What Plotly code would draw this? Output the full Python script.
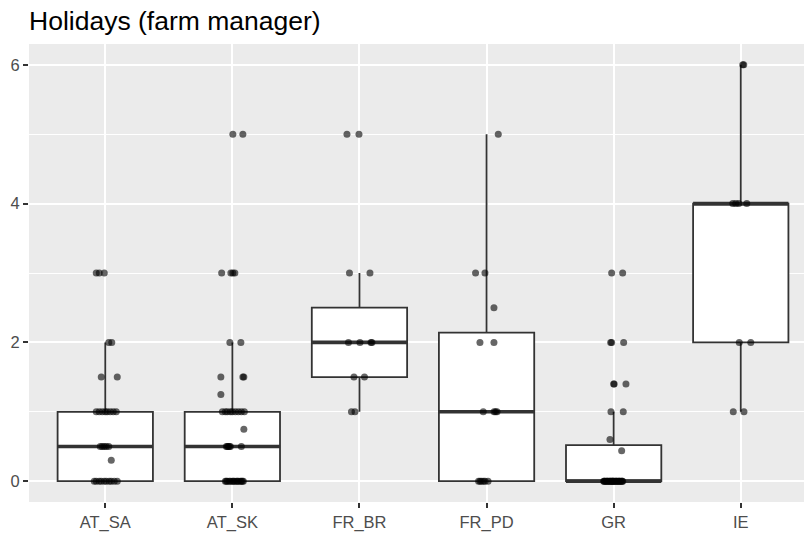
import plotly.graph_objects as go

# ---------------- data ----------------
categories = ["AT_SA", "AT_SK", "FR_BR", "FR_PD", "GR", "IE"]

# observations (holidays) per region
vals_AT_SA = [0]*10 + [0.3] + [0.5]*5 + [1]*8 + [1.5]*2 + [2]*2 + [3]*3
vals_AT_SK = [0]*15 + [0.5]*6 + [0.75] + [1]*9 + [1.25] + [1.5]*3 + [2]*2 + [3]*4 + [5]*2
vals_FR_BR = [1]*2 + [1.5]*2 + [2]*4 + [3]*2 + [5]*2
vals_FR_PD = [0]*6 + [1]*4 + [2]*2 + [2.5] + [3]*2 + [5]
vals_GR = [0]*28 + [0.44] + [0.6] + [1]*2 + [1.4]*3 + [2]*3 + [3]*2
vals_IE = [1]*2 + [2]*2 + [4]*4 + [6]*2

# box statistics
box_q1 = [0, 0, 1.5, 0, 0, 2]
box_median = [0.5, 0.5, 2, 1, 0, 4]
box_q3 = [1, 1, 2.5, 2.14, 0.52, 4]
box_lower = [0, 0, 1, 0, 0, 1]
box_upper = [2, 2, 3, 5, 1, 6]

# horizontal jitter of each point (pixels at the reference scale)
jit_AT_SA = [-11, -9, -6, -4, -1, 1, 4, 6, 9, 12, 6, -5, -3, -1, 1, 3.5,
             -9, -6, -3, 0, 2, 5, 8, 11, -4, 12, 3.5, 6.5, -9, -6, -1]
jit_AT_SK = [-7, -6, -5, -3, -2, 0, 1, 2, 4, 5, 6, 8, 9, 10, 11,
             -6, -5, -4, -3, -2, 9, 11.5,
             -10, -7, -5, -2, 0, 3, 6, 9, 12, -11.5,
             -11.5, 10.5, 11.5, -2.5, 8.5, -10.7, -1.5, 0.5, 2.5, 0.5, 10.5]
jit_FR_BR = [-8, -4.5, -5.5, 5, -11, 0.5, 11.5, 12.5, -10, 10.5, -12.5, -0.5]
jit_FR_PD = [-8, -6.5, -5, -3, -1.5, 1.5, -3.3, 7.5, 9, 10.5, -6.6, 7.4, 7.4,
             -11, -1.6, 11.7]
jit_GR = [-10, -9, -8, -7, -6, -5, -4, -3, -2, -1, 0, 1, 2, 3, 4, 5, 6, 7, 8, 9,
          -9.5, -6.5, -3.5, -0.5, 2.5, 5.5, 8.5, -1.5,
          8, -3.7, -2.7, 9.6, 0, 0.5, 12.3, -3, -2, 10, -2, 9]
jit_IE = [-7.5, 3.2, -1.5, 10, -8, -5, -2, 6, 2, 3]

all_vals = [vals_AT_SA, vals_AT_SK, vals_FR_BR, vals_FR_PD, vals_GR, vals_IE]
all_jit = [jit_AT_SA, jit_AT_SK, jit_FR_BR, jit_FR_PD, jit_GR, jit_IE]

PX_PER_CAT = 127.1
BOX_W = 0.75
DARK = "#333333"

fig = go.Figure()

# boxes
fig.add_trace(go.Box(
    x=list(range(len(categories))),
    q1=box_q1, median=box_median, q3=box_q3,
    lowerfence=box_lower, upperfence=box_upper,
    boxpoints=False, width=BOX_W, whiskerwidth=0,
    fillcolor="white", line=dict(color=DARK, width=1.8),
    showlegend=False, hoverinfo="skip",
))

# thicker median lines
mx, my = [], []
for i, m in enumerate(box_median):
    mx += [i - BOX_W / 2, i + BOX_W / 2, None]
    my += [m, m, None]
fig.add_trace(go.Scatter(x=mx, y=my, mode="lines",
                         line=dict(color=DARK, width=3.6),
                         showlegend=False, hoverinfo="skip"))

# jittered points
for i, (vals, jit) in enumerate(zip(all_vals, all_jit)):
    xs = [i + j / PX_PER_CAT for j in jit[:len(vals)]]
    fig.add_trace(go.Scatter(
        x=xs, y=vals, mode="markers",
        marker=dict(color="black", size=7, opacity=0.6, line=dict(width=0)),
        showlegend=False,
    ))

W, H = 804, 536
L, R, T, B = 29, 0, 44, 34
x_end = -0.6 + (W - L - R) / PX_PER_CAT

fig.update_layout(
    width=W, height=H,
    margin=dict(l=L, r=R, t=T, b=B, autoexpand=False),
    paper_bgcolor="white",
    plot_bgcolor="#EBEBEB",
    font=dict(family="Arial, Liberation Sans, sans-serif", color="#4D4D4D", size=16),
    title=dict(text="Holidays (farm manager)",
               font=dict(size=26.5, color="black", family="Arial, Liberation Sans, sans-serif"),
               x=29 / W, xref="container", xanchor="left",
               y=1 - 21 / H, yref="container", yanchor="middle", automargin=False),
    xaxis=dict(range=[-0.6, x_end], tickmode="array", automargin=False,
               tickvals=list(range(len(categories))), ticktext=categories,
               showgrid=True, gridcolor="white", gridwidth=2,
               zeroline=False, showline=False,
               ticks="outside", ticklen=5, tickwidth=1.5, tickcolor=DARK,
               tickfont=dict(size=16.5, color="#4D4D4D")),
    yaxis=dict(range=[-0.3, 6.3], tickmode="array", tickvals=[0, 2, 4, 6],
               automargin=False,
               showgrid=True, gridcolor="white", gridwidth=2,
               zeroline=False, showline=False,
               ticks="outside", ticklen=5, tickwidth=1.5, tickcolor=DARK,
               tickfont=dict(size=16.5, color="#4D4D4D"),
               minor=dict(tickvals=[1, 3, 5], showgrid=True, gridcolor="white",
                          gridwidth=1, ticks="")),
)

fig.write_html("out.html",
               config={"displayModeBar": False},
               post_script="document.body.style.margin='0';document.body.style.padding='0';")
